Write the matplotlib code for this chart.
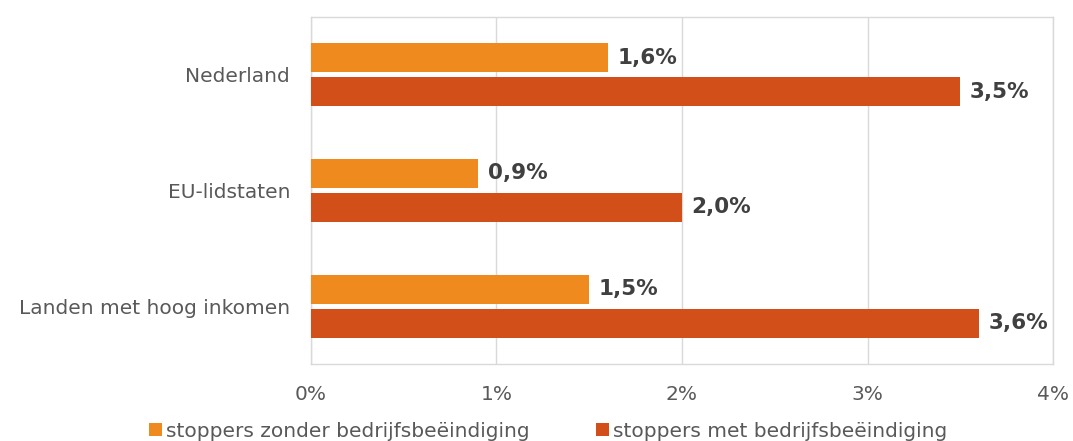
import numpy as np
import matplotlib.pyplot as plt
from matplotlib.ticker import FuncFormatter

categories = ['Nederland', 'EU-lidstaten', 'Landen met hoog inkomen']
zonder = [1.6, 0.9, 1.5]
met = [3.5, 2.0, 3.6]
series_names = ['stoppers zonder bedrijfsbeëindiging', 'stoppers met bedrijfsbeëindiging']
colors = ['#EF8A1F', '#D34F19']

plt.rcParams['font.family'] = 'DejaVu Sans'

fig = plt.figure(figsize=(10.73, 4.41), dpi=100)
ax = fig.add_axes([0.2898, 0.1746, 0.6916, 0.7869])

y = np.arange(len(categories))
h = 0.25
off = 0.147
b1 = ax.barh(y - off, zonder, height=h, color=colors[0], label=series_names[0], zorder=3)
b2 = ax.barh(y + off, met, height=h, color=colors[1], label=series_names[1], zorder=3)

for bars, vals in ((b1, zonder), (b2, met)):
    for bar, v in zip(bars, vals):
        ax.annotate(f'{v:.1f}%'.replace('.', ','),
                    (bar.get_width(), bar.get_y() + bar.get_height() / 2),
                    xytext=(7, 0), textcoords='offset points',
                    va='center', ha='left', fontsize=15.5, fontweight='bold',
                    color='#404040')

ax.set_xlim(0, 4)
ax.set_ylim(2.5, -0.5)
ax.set_xticks([0, 1, 2, 3, 4])
ax.xaxis.set_major_formatter(FuncFormatter(lambda v, p: f'{v:.0f}%'))
ax.set_yticks(y)
ax.set_yticklabels(categories)
ax.tick_params(axis='both', length=0, labelsize=14.5, labelcolor='#595959')
ax.tick_params(axis='x', pad=15)
ax.tick_params(axis='y', pad=15)
ax.grid(axis='x', color='#D9D9D9', linewidth=1, zorder=0)
for s in ax.spines.values():
    s.set_color('#D9D9D9')
    s.set_linewidth(1)

leg = fig.legend(handles=[b1, b2], loc='lower center', bbox_to_anchor=(0.511, -0.04),
                 ncol=2, frameon=False, fontsize=14.5, handlelength=0.65, handleheight=0.65,
                 handletextpad=0.2, columnspacing=3.3)
for t in leg.get_texts():
    t.set_color('#595959')

fig.savefig('out.png', dpi=100)
